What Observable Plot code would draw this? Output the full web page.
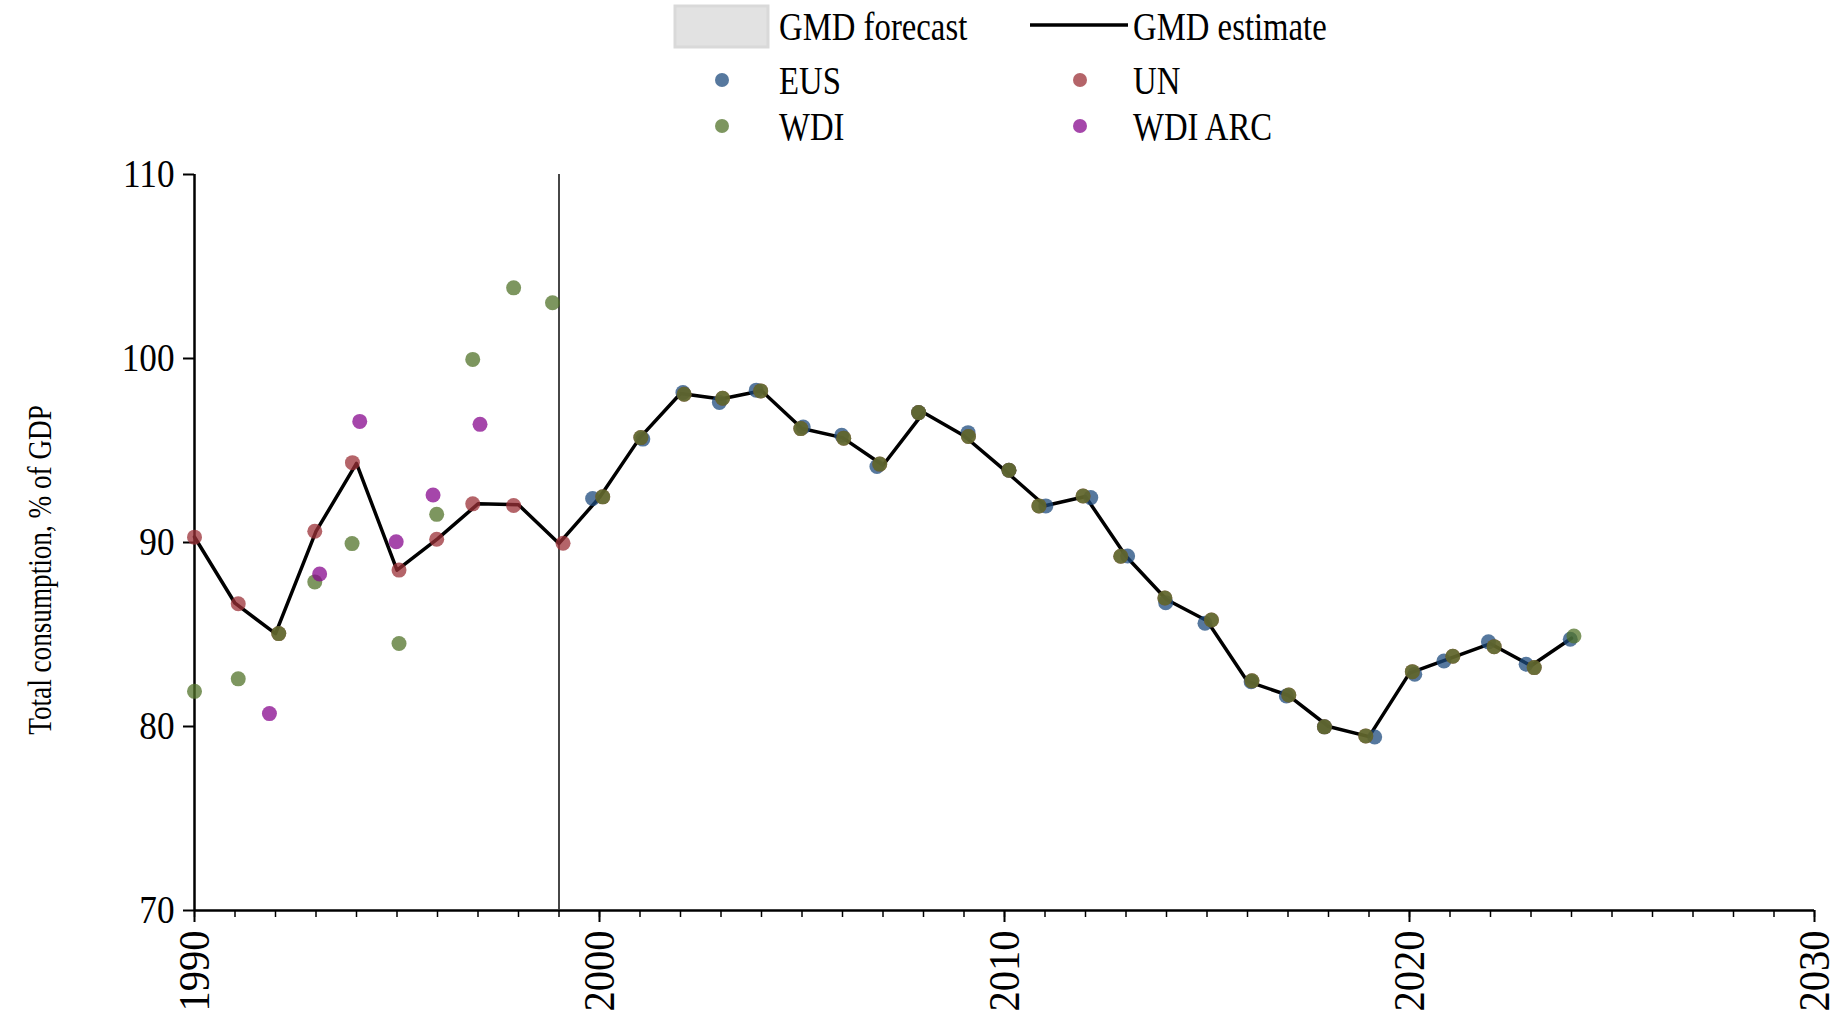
<!DOCTYPE html>
<html><head><meta charset="utf-8">
<script src="https://cdn.jsdelivr.net/npm/d3@7"></script>
<script src="https://cdn.jsdelivr.net/npm/@observablehq/plot@0.6"></script>
<style>
body{margin:0;background:#fff;font-family:"Liberation Serif","Times New Roman",serif;}
svg{display:block}
</style></head><body>
<div id="legend"></div>
<div id="chart"></div>
<script>
// ---- data ----
const xDomain = [1990, 2030];
const yDomain = [70, 110];
const majorXTicks = [1990, 2000, 2010, 2020, 2030];
const yTicks = [70, 80, 90, 100, 110];
const cutYear = [1999];
const yTitle = "Total consumption, % of GDP";

const gmdYears = [1990,1991,1992,1993,1994,1995,1996,1997,1998,1999,2000,2001,2002,2003,2004,2005,2006,2007,2008,2009,2010,2011,2012,2013,2014,2015,2016,2017,2018,2019,2020,2021,2022,2023,2024];
const gmdValues = [90.3,86.7,85.05,90.6,94.3,88.5,90.2,92.1,92.05,89.95,92.45,95.7,98.1,97.8,98.25,96.2,95.7,94.2,97.06,95.8,93.93,92.0,92.5,89.25,86.9,85.75,82.45,81.7,80.0,79.45,82.9,83.7,84.5,83.3,84.8];

const eusX = [1999.83,2001.07,2002.06,2002.96,2003.87,2005.03,2005.98,2006.85,2007.88,2009.10,2010.11,2011.02,2012.13,2013.04,2013.98,2014.95,2016.09,2016.96,2017.90,2019.14,2020.13,2020.85,2021.95,2022.88,2023.97];
const eusValues = [92.39,95.62,98.15,97.61,98.28,96.28,95.83,94.13,97.06,95.97,93.93,91.99,92.44,89.27,86.73,85.61,82.43,81.66,79.98,79.43,82.84,83.56,84.6,83.38,84.74];

const unX = [1990.0,1991.08,1992.08,1992.97,1993.90,1995.05,1995.98,1996.87,1997.88,1999.10,2000.08,2001.02,2002.09,2003.04,2003.98,2004.97,2006.03,2006.92,2007.88,2009.11,2010.11,2010.85,2011.94,2012.87,2013.96,2015.11,2016.11,2017.02,2017.90,2018.92,2020.07,2021.07,2022.09,2023.08];
const unValues = [90.29,86.67,85.05,90.61,94.34,88.5,90.18,92.1,92.01,89.96,92.48,95.7,98.06,97.84,98.24,96.19,95.67,94.26,97.06,95.76,93.93,91.99,92.53,89.25,86.98,85.79,82.48,81.71,79.98,79.49,82.98,83.82,84.34,83.2];

const wdiX = [1990.0,1991.08,1992.08,1992.97,1993.89,1995.05,1995.98,1996.87,1997.88,1998.84,2000.08,2001.02,2002.09,2003.04,2003.98,2004.97,2006.03,2006.92,2007.88,2009.11,2010.11,2010.85,2011.94,2012.87,2013.96,2015.11,2016.11,2017.02,2017.90,2018.92,2020.07,2021.07,2022.09,2023.08,2024.06];
const wdiValues = [81.91,82.59,85.05,87.86,89.94,84.51,91.53,99.95,103.84,103.03,92.48,95.7,98.06,97.84,98.24,96.19,95.67,94.26,97.06,95.76,93.93,91.99,92.53,89.25,86.98,85.79,82.48,81.71,79.98,79.49,82.98,83.82,84.34,83.2,84.92];

const arcX = [1991.85,1993.09,1994.08,1994.98,1995.89,1997.05];
const arcValues = [80.7,88.29,96.58,90.04,92.58,96.42];

const seriesNames = ["EUS","UN","WDI","WDI ARC"];
const seriesColors = ["#1d4b7d","#9b3037","#52732a","#87088e"];
const dotOpacity = 0.75;

// ---- build tables ----
const gmd = gmdYears.map((x,i)=>({x, y: gmdValues[i]}));
const mk = (xs, vs) => xs.map((x,i)=>({x, y: vs[i]}));
const series = [mk(eusX,eusValues), mk(unX,unValues), mk(wdiX,wdiValues), mk(arcX,arcValues)];
const minorXTicks = d3.range(xDomain[0], xDomain[1]+1);

// narrow (condensed) text, as in the reference typeface
const isNum = v => v != null && /^\s*-?[\d.]+\s*$/.test(v);
function condense(sel, s) {
  sel.each(function(){
    const t = d3.select(this);
    const xa = t.attr("x"), ya = t.attr("y");
    let x = 0, y = 0;
    if (isNum(xa)) { x = +xa; t.attr("x", null); }
    if (isNum(ya)) { y = +ya; t.attr("y", null); }
    const tr = t.attr("transform") || "";
    t.attr("transform", `${tr} translate(${x},${y}) scale(${s},1)`);
  });
}

// ---- legend ----
const FONT = "Liberation Serif, Times New Roman, serif";
const LEG_H = 152;
const lg = d3.select("#legend").append("svg").attr("width",1840).attr("height",LEG_H)
  .style("font-family",FONT).style("font-size","39px");
lg.append("rect").attr("x",675).attr("y",6).attr("width",93).attr("height",41)
  .attr("fill","#e2e2e2").attr("stroke","#d9d9d9").attr("stroke-width",3);
lg.append("text").attr("x",779).attr("y",26).attr("dy","0.35em").text("GMD forecast");
lg.append("line").attr("x1",1030).attr("x2",1128).attr("y1",25).attr("y2",25)
  .attr("stroke","#000").attr("stroke-width",3.5);
lg.append("text").attr("x",1133).attr("y",26).attr("dy","0.35em").text("GMD estimate");
const legendPos = [[722,80,779],[1080,80,1133],[722,126,779],[1080,126,1133]];
seriesNames.forEach((n,i)=>{
  const [cx,cy,tx] = legendPos[i];
  lg.append("circle").attr("cx",cx).attr("cy",cy).attr("r",7)
    .attr("fill",seriesColors[i]).attr("fill-opacity",dotOpacity);
  lg.append("text").attr("x",tx).attr("y",cy).attr("dy","0.35em").text(n);
});
condense(lg.selectAll("text"), 0.84);

// ---- plot ----
const plot = Plot.plot({
  width: 1840, height: 1016 - LEG_H,
  marginLeft: 194, marginRight: 26, marginTop: 174 - LEG_H, marginBottom: 106,
  style: {fontFamily: FONT, fontSize: "40px", background: "#fff", color: "#000", overflow: "visible"},
  x: {domain: xDomain, label: null},
  y: {domain: yDomain, label: null},
  marks: [
    Plot.axisX({ticks: minorXTicks, tickSize: 7, strokeWidth: 1.5, tickFormat: () => ""}),
    Plot.axisX({ticks: majorXTicks, tickSize: 12, strokeWidth: 2, tickPadding: 8, tickRotate: -90, tickFormat: d => String(d), fontSize: 44}),
    Plot.axisY({ticks: yTicks, tickSize: 11, strokeWidth: 2, tickPadding: 9, tickFormat: d => String(d), fontSize: 40}),
    Plot.ruleY([yDomain[0]], {x1: xDomain[0], x2: xDomain[1], stroke: "#000", strokeWidth: 2.5}),
    Plot.ruleX([xDomain[0]], {y1: yDomain[0], y2: yDomain[1], stroke: "#000", strokeWidth: 2.5}),
    Plot.ruleX(cutYear, {y1: yDomain[0], y2: yDomain[1], stroke: "#333", strokeWidth: 1.8}),
    Plot.line(gmd, {x: "x", y: "y", stroke: "#000", strokeWidth: 3.5}),
    ...series.map((s,i)=>Plot.dot(s, {x: "x", y: "y", r: 7.5, fill: seriesColors[i], fillOpacity: dotOpacity, stroke: "none"}))
  ]
});
document.getElementById("chart").appendChild(plot);
condense(d3.select(plot).selectAll("g[aria-label='y-axis tick label'] text"), 0.88);
condense(d3.select(plot).selectAll("g[aria-label='x-axis tick label'] text"), 0.92);
d3.select(plot).append("text")
  .attr("transform",`translate(39,${570 - LEG_H}) rotate(-90) scale(0.8,1)`)
  .attr("text-anchor","middle").attr("dy","0.35em")
  .style("font-family",FONT).style("font-size","34px").attr("fill","#000")
  .text(yTitle);
</script></body></html>
